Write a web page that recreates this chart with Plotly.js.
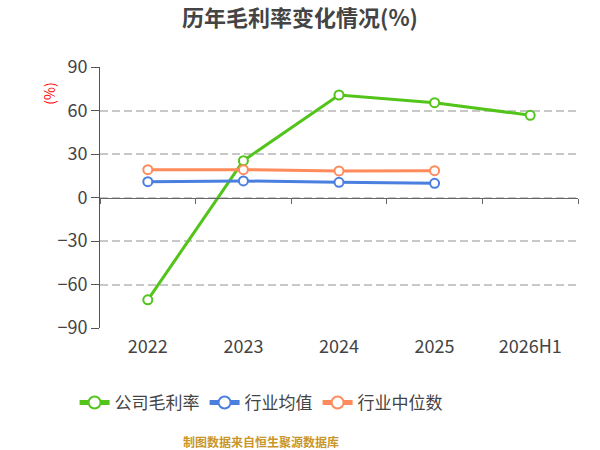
<!DOCTYPE html>
<html>
<head>
<meta charset="utf-8">
<script src="https://cdn.plot.ly/plotly-3.0.1.min.js"></script>
<style>
  html, body { margin: 0; padding: 0; background: #fff; }
  #chart { width: 600px; height: 450px; }
</style>
</head>
<body>
<div id="chart"></div>
<script>
// categories and values
const years = ['2022', '2023', '2024', '2025', '2026H1'];
const companyMargin = [-70.6, 25.4, 70.7, 65.4, 56.7];
const industryAvg = [10.9, 11.4, 10.5, 9.8];
const industryMedian = [19.2, 19.2, 18.3, 18.5];
const yTicks = [-90, -60, -30, 0, 30, 60, 90];

const font = '"Noto Sans CJK SC", "Noto Sans", sans-serif';

function series(name, y, color) {
   return {
      type: 'scatter',
      mode: 'lines+markers',
      name: name,
      x: years.slice(0, y.length),
      y: y,
      line: { color: color, width: 3 },
      marker: { size: 9, color: '#ffffff', line: { color: color, width: 2 } },
      hoverinfo: 'x+y'
   };
}

const traces = [
   series('公司毛利率', companyMargin, '#52c41a'),
   series('行业均值', industryAvg, '#4a7fe0'),
   series('行业中位数', industryMedian, '#ff8a5b'),
   // empty trace so the zero-line axis gets drawn
   { type: 'scatter', x: years, y: years.map(() => null), xaxis: 'x2', showlegend: false, hoverinfo: 'skip' }
];

const layout = {
   width: 600,
   height: 450,
   paper_bgcolor: 'rgba(0,0,0,0)',
   plot_bgcolor: 'rgba(0,0,0,0)',
   margin: { l: 100, r: 22, t: 67, b: 122 },
   font: { family: font, color: '#444' },
   title: {
      text: '<b>历年毛利率变化情况(%)</b>',
      font: { size: 22, color: '#444', family: font },
      x: 0.5, xref: 'container',
      y: 0.96, yref: 'container', yanchor: 'middle'
   },
   showlegend: true,
   legend: {
      orientation: 'h',
      x: 0.337, xanchor: 'center',
      y: -0.287, yanchor: 'middle',
      font: { size: 17, color: '#444', family: font },
      itemsizing: 'constant'
   },
   xaxis: {
      type: 'category',
      categoryarray: years,
      range: [-0.5, 4.5],
      showgrid: false,
      showline: false,
      zeroline: false,
      ticks: '',
      tickangle: 0,
      ticklabelstandoff: 6,
      tickfont: { size: 18, color: '#444' }
   },
   xaxis2: {
      type: 'category',
      categoryarray: years,
      range: [-0.5, 4.5],
      overlaying: 'x',
      anchor: 'free',
      position: 0.5,
      showline: true,
      linecolor: '#666',
      linewidth: 1,
      ticks: 'outside',
      tickson: 'boundaries',
      ticklen: 5,
      tickcolor: '#666',
      showticklabels: false,
      showgrid: false,
      zeroline: false
   },
   yaxis: {
      range: [-90, 90],
      tickvals: yTicks,
      showline: true,
      linecolor: '#555',
      linewidth: 1,
      ticks: 'outside',
      ticklen: 8,
      tickcolor: '#555',
      showgrid: true,
      gridcolor: '#c8c8c8',
      gridwidth: 2,
      griddash: '8px,4px',
      zeroline: false,
      tickfont: { size: 18, color: '#444' }
   },
   annotations: [
      {
         text: '(%)', textangle: -90,
         xref: 'paper', yref: 'paper',
         x: -0.107, y: 0.897,
         xanchor: 'center', yanchor: 'middle',
         showarrow: false,
         font: { size: 14, color: '#ff0000' }
      },
      {
         text: '<b>制图数据来自恒生聚源数据库</b>',
         xref: 'paper', yref: 'paper',
         x: 0.337, y: -0.433,
         xanchor: 'center', yanchor: 'middle',
         showarrow: false,
         font: { size: 12, color: '#c9962b' }
      }
   ]
};

Plotly.newPlot('chart', traces, layout, { displayModeBar: false, staticPlot: true });
</script>
</body>
</html>
